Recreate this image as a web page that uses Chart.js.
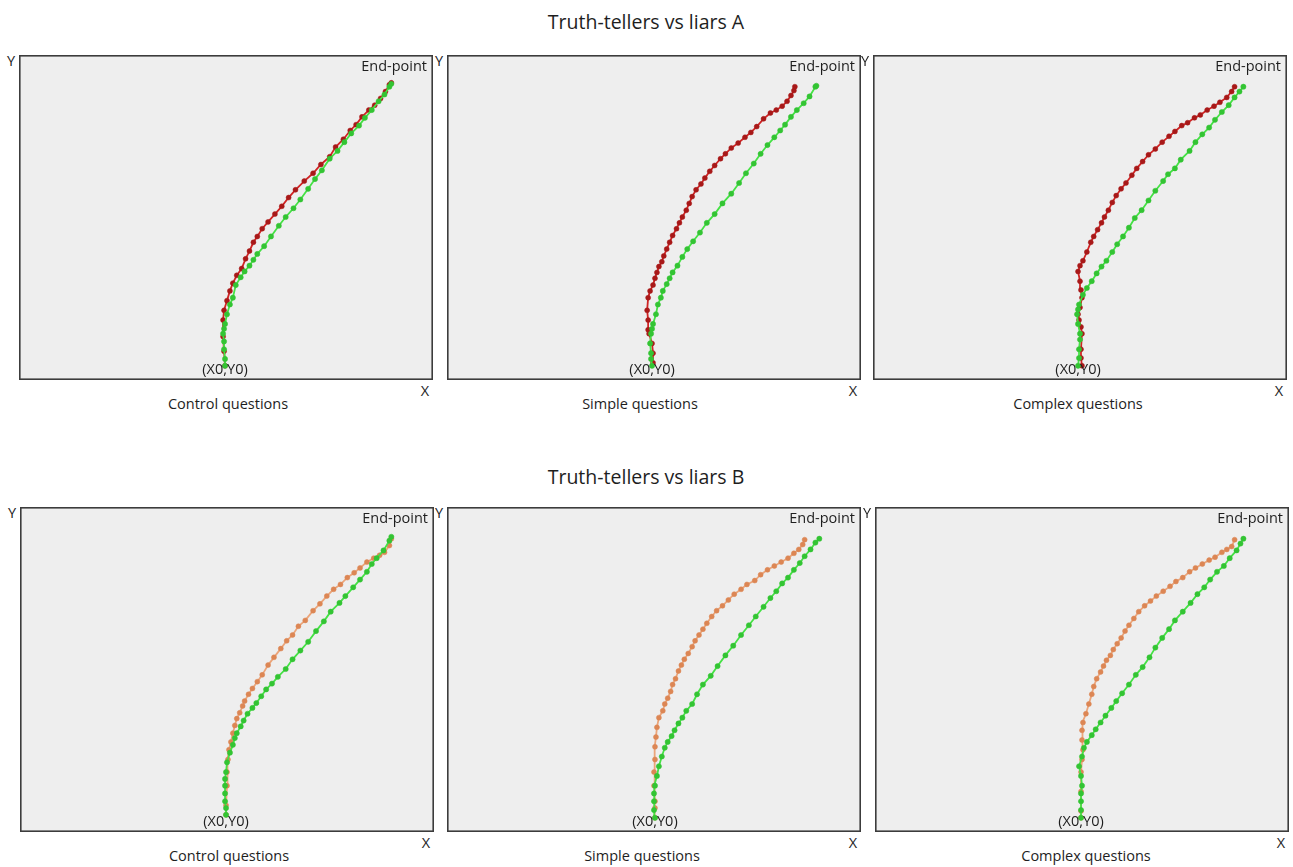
<!DOCTYPE html>
<html>
<head>
<meta charset="utf-8">
<script src="https://cdn.jsdelivr.net/npm/chart.js@4.4.1/dist/chart.umd.min.js"></script>
<style>
  html, body { margin: 0; padding: 0; background: #ffffff; }
  body { position: relative; width: 1293px; height: 867px; overflow: hidden;
         font-family: "Open Sans", "Noto Sans", sans-serif; color: #1e1e1e; }
  .lbl { position: absolute; white-space: nowrap; font-size: 14.5px; line-height: 1;
         transform: translate(-50%, -50%); }
  .title { font-size: 19.5px; }
  .panel { position: absolute; }
  .panel canvas { display: block; }
</style>
</head>
<body>
<script>
// ---- Text ----
const groupTitles = ['Truth-tellers vs liars A', 'Truth-tellers vs liars B'];
const questionTypes = ['Control questions', 'Simple questions', 'Complex questions'];
const startLabel = '(X0,Y0)';
const endLabel = 'End-point';
const xAxisLabel = 'X';
const yAxisLabel = 'Y';

// ---- Mean mouse trajectories, [x, y] in screen units above the bottom-left corner ----
// Group A
const tellersA_control = [[206,10],[206,17],[205,27],[205,35],[204,43],[205,48],[206,53],[208,63],[211,73],[214,80],[217,93],[222,101],[226,107],[231,113],[235,119],[239,125],[246,133],[253,143],[261,154],[268,163],[276,172],[283,181],[291,192],[298,202],[305,211],[313,223],[321,231],[328,240],[335,249],[343,257],[349,265],[356,273],[363,282],[369,289],[374,297],[376,300]];
const liarsA_control = [[206,10],[205,25],[204,40],[204,57],[205,67],[208,77],[211,87],[214,95],[218,103],[223,110],[227,120],[231,128],[235,137],[239,143],[244,151],[250,158],[257,166],[264,174],[271,183],[278,191],[287,200],[296,208],[304,217],[313,225],[319,235],[327,243],[334,252],[340,258],[346,266],[353,273],[359,278],[365,285],[370,292],[374,299],[376,301]];
const tellersA_simple = [[205,10],[204,17],[204,23],[203,33],[204,43],[205,48],[206,53],[209,63],[211,73],[214,80],[216,87],[220,94],[223,100],[226,106],[231,113],[236,122],[241,130],[247,138],[254,147],[261,157],[269,166],[277,177],[286,187],[294,198],[301,208],[309,218],[316,228],[323,237],[330,245],[336,252],[341,258],[347,266],[353,273],[360,280],[366,287],[372,297],[373,298]];
const liarsA_simple = [[206,13],[206,23],[205,33],[202,43],[201,47],[201,57],[200,67],[201,80],[203,87],[206,93],[208,100],[210,106],[212,112],[215,117],[217,123],[220,130],[223,137],[226,144],[230,151],[233,157],[236,163],[240,170],[243,177],[246,184],[250,191],[255,197],[259,203],[264,210],[269,216],[275,223],[280,228],[286,234],[293,239],[300,245],[306,250],[312,256],[319,264],[326,270],[332,273],[338,277],[343,282],[347,288],[350,293],[351,297]];
const tellersA_complex = [[205,10],[206,18],[206,27],[207,37],[207,43],[205,53],[204,63],[205,68],[206,73],[210,83],[214,90],[219,97],[224,105],[229,112],[234,118],[240,127],[245,135],[251,143],[257,152],[263,162],[270,170],[277,180],[284,190],[292,200],[297,207],[304,213],[310,222],[319,231],[325,240],[332,248],[339,255],[345,263],[352,271],[359,278],[365,286],[370,292],[374,297]];
const liarsA_complex = [[209,10],[208,18],[208,27],[209,43],[208,50],[206,57],[205,63],[207,70],[209,80],[208,88],[207,97],[205,107],[207,113],[210,118],[214,127],[218,137],[221,143],[225,150],[229,157],[232,163],[236,170],[240,178],[244,185],[249,192],[254,198],[260,206],[265,213],[271,220],[277,227],[284,233],[291,240],[298,246],[304,251],[311,257],[317,260],[324,265],[330,268],[337,273],[344,277],[350,281],[357,286],[362,292],[365,297]];
// Group B
const tellersB_control = [[206,13],[206,20],[205,27],[205,35],[205,43],[205,50],[206,57],[207,67],[210,77],[213,85],[215,92],[217,97],[221,104],[224,110],[228,117],[233,123],[237,128],[242,135],[247,142],[253,148],[259,155],[267,163],[274,173],[282,182],[290,191],[298,202],[306,212],[313,222],[322,231],[328,238],[336,247],[343,255],[350,263],[355,271],[360,277],[367,285],[373,295],[375,299]];
const liarsB_control = [[206,13],[206,23],[207,43],[207,57],[208,70],[209,80],[211,88],[213,97],[215,105],[217,112],[220,118],[223,125],[225,130],[229,137],[233,143],[238,150],[243,157],[249,167],[255,175],[262,184],[268,192],[274,198],[280,207],[287,213],[295,223],[302,230],[309,238],[316,245],[323,250],[330,257],[337,262],[343,267],[350,273],[357,277],[363,280],[368,283],[373,290],[375,297]];
const tellersB_simple = [[208,10],[207,18],[207,27],[207,35],[208,43],[210,53],[212,63],[215,73],[218,82],[221,88],[225,94],[228,100],[232,107],[236,113],[240,120],[246,127],[251,137],[257,147],[265,156],[272,166],[280,177],[288,187],[296,198],[304,208],[311,217],[319,227],[326,236],[332,243],[338,251],[344,257],[350,265],[356,272],[361,279],[367,286],[372,293],[376,297]];
const liarsB_simple = [[208,10],[208,20],[208,27],[207,43],[207,57],[208,70],[208,83],[209,93],[210,103],[212,113],[216,120],[218,127],[221,133],[224,140],[226,147],[229,153],[232,161],[235,167],[238,173],[242,179],[246,186],[249,192],[253,198],[257,204],[261,210],[266,217],[271,223],[277,228],[283,234],[289,240],[296,245],[302,250],[310,254],[316,260],[323,265],[330,269],[337,273],[344,277],[350,282],[355,286],[359,291],[361,296]];
const tellersB_complex = [[206,10],[206,18],[206,27],[206,35],[207,43],[206,53],[204,63],[207,73],[209,82],[212,88],[217,95],[221,101],[226,108],[231,115],[237,123],[242,130],[248,138],[255,147],[262,157],[269,165],[276,175],[282,185],[289,195],[296,204],[302,213],[310,222],[318,231],[325,240],[332,247],[338,255],[345,263],[352,269],[358,277],[365,285],[369,292],[372,297]];
const liarsB_complex = [[206,10],[206,17],[206,37],[206,57],[207,70],[208,80],[207,90],[207,100],[208,108],[211,117],[214,127],[217,137],[219,145],[222,153],[226,160],[229,166],[232,172],[236,177],[239,183],[243,189],[247,195],[251,202],[255,208],[260,215],[265,222],[271,228],[277,233],[283,238],[290,243],[297,248],[303,253],[310,257],[317,263],[323,267],[330,271],[337,275],[343,278],[350,283],[355,286],[360,289],[363,296]];

const tellers = [[tellersA_control, tellersA_simple, tellersA_complex],
                 [tellersB_control, tellersB_simple, tellersB_complex]];
const liars   = [[liarsA_control, liarsA_simple, liarsA_complex],
                 [liarsB_control, liarsB_simple, liarsB_complex]];

// ---- Layout and styles ----
const BOX_W = 414, BOX_H = 325;
const boxes = [
  [{ left: 19, top: 55, sub: 228 }, { left: 447, top: 55, sub: 640 }, { left: 873, top: 55, sub: 1078 }],
  [{ left: 20, top: 507, sub: 229 }, { left: 447, top: 507, sub: 642 }, { left: 875, top: 507, sub: 1086 }]
];
const titleY = [22, 477];
const tellerStyle = { line: '#45e245', dot: '#33c433' };
const liarStyle = [{ line: '#d02424', dot: '#a81818' }, { line: '#eba57a', dot: '#dc8654' }];
const FONT = '14.5px "Open Sans", "Noto Sans", sans-serif';

function addLabel(text, x, y, cls) {
  const d = document.createElement('div');
  d.className = 'lbl' + (cls ? ' ' + cls : '');
  d.textContent = text;
  d.style.left = x + 'px';
  d.style.top = y + 'px';
  document.body.appendChild(d);
}

// Frame, plot background and the start/end labels inside each panel
const framePlugin = {
  id: 'frame',
  beforeDraw(chart) {
    const { ctx, width, height } = chart;
    ctx.save();
    ctx.fillStyle = '#eeeeee';
    ctx.fillRect(0, 0, width, height);
    ctx.restore();
  },
  afterDraw(chart) {
    const { ctx, width, height } = chart;
    const start = chart.data.datasets[0].data[0];
    const sx = chart.scales.x.getPixelForValue(start.x);
    ctx.save();
    ctx.fillStyle = '#1e1e1e';
    ctx.font = FONT;
    ctx.textBaseline = 'middle';
    ctx.textAlign = 'right';
    ctx.fillText(endLabel, width - 6, 12);
    ctx.textAlign = 'center';
    ctx.fillText(startLabel, sx, height - 10);
    ctx.strokeStyle = '#3c3c3c';
    ctx.lineWidth = 1.6;
    ctx.strokeRect(0.8, 0.8, width - 1.6, height - 1.6);
    ctx.restore();
  }
};

const toPoints = arr => arr.map(p => ({ x: p[0], y: p[1] }));

groupTitles.forEach((title, g) => {
  addLabel(title, 646, titleY[g], 'title');
  questionTypes.forEach((q, i) => {
    const b = boxes[g][i];
    const wrap = document.createElement('div');
    wrap.className = 'panel';
    wrap.style.left = b.left + 'px';
    wrap.style.top = b.top + 'px';
    const cv = document.createElement('canvas');
    cv.width = BOX_W; cv.height = BOX_H;
    cv.style.width = BOX_W + 'px'; cv.style.height = BOX_H + 'px';
    wrap.appendChild(cv);
    document.body.appendChild(wrap);

    addLabel(yAxisLabel, b.left - 8, b.top + 6);
    addLabel(xAxisLabel, b.left + BOX_W - 8, b.top + BOX_H + 11);
    addLabel(q, b.sub, b.top + BOX_H + 24);

    new Chart(cv, {
      type: 'scatter',
      data: {
        datasets: [
          {
            label: 'Truth-tellers',
            data: toPoints(tellers[g][i]),
            showLine: true,
            borderColor: tellerStyle.line,
            borderWidth: 1.8,
            pointRadius: 2.6,
            pointBackgroundColor: tellerStyle.dot,
            pointBorderColor: tellerStyle.dot,
            pointBorderWidth: 0.5,
            tension: 0
          },
          {
            label: 'Liars',
            data: toPoints(liars[g][i]),
            showLine: true,
            borderColor: liarStyle[g].line,
            borderWidth: 1.8,
            pointRadius: 2.5,
            pointBackgroundColor: liarStyle[g].dot,
            pointBorderColor: liarStyle[g].dot,
            pointBorderWidth: 0.5,
            tension: 0
          }
        ]
      },
      options: {
        responsive: false,
        animation: false,
        devicePixelRatio: 1,
        layout: { padding: 0 },
        plugins: { legend: { display: false }, tooltip: { enabled: false } },
        scales: {
          x: { type: 'linear', min: 0, max: BOX_W, display: false },
          y: { type: 'linear', min: 0, max: BOX_H, display: false }
        }
      },
      plugins: [framePlugin]
    });
  });
});
</script>
</body>
</html>
